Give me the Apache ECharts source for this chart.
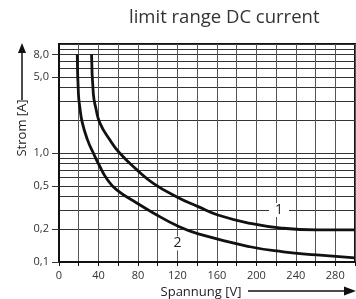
<!DOCTYPE html>
<html>
<head>
<meta charset="utf-8">
<script src="https://cdn.jsdelivr.net/npm/echarts@6/dist/echarts.min.js"></script>
<style>
  html, body { margin: 0; padding: 0; background: #fff; }
  #main { width: 356px; height: 299px; }
</style>
</head>
<body>
<div id="main"></div>
<script>
// Kurve 1 (rechts/oben)
var voltage1 = [33, 34.8, 37.3, 41.5, 51.5, 61, 79, 95.6, 119, 141, 161, 194, 227, 261, 300];
var current1 = [8.0, 3.48, 2.59, 1.88, 1.32, 1.01, 0.70, 0.527, 0.397, 0.322, 0.27, 0.226, 0.204, 0.197, 0.197];
// Kurve 2 (links/unten)
var voltage2 = [18.5, 19.7, 21.2, 23.6, 28.9, 34.8, 40.9, 48.6, 58.5, 78.8, 95.6, 119.3, 141.2, 193.6, 227.3, 261.2, 300];
var current2 = [8.0, 3.48, 2.59, 1.9, 1.32, 1.0, 0.768, 0.577, 0.458, 0.348, 0.282, 0.216, 0.181, 0.138, 0.124, 0.116, 0.109];

var yLabelValues = [0.1, 0.2, 0.5, 1, 5, 8];
var yGridValues = [0.1, 0.2, 0.3, 0.4, 0.5, 0.6, 0.7, 0.8, 0.9, 1, 2, 3, 4, 5, 6, 7, 8, 9, 10];
var xLabelValues = [0, 40, 80, 120, 160, 200, 240, 280];

function pairs(xs, ys) {
    var out = [];
    for (var i = 0; i < xs.length; i++) {
        out.push([xs[i], ys[i]]);
    }
    return out;
}

var myChart = echarts.init(document.getElementById('main'));
var font = 'Open Sans';

var curveLabel = function (text, coord, w) {
    return {
        symbol: 'rect',
        symbolSize: [w, 14],
        itemStyle: { color: '#fff' },
        silent: true,
        data: [{ coord: coord }],
        label: {
            show: true, formatter: text, position: 'inside',
            fontFamily: font, fontSize: 14, color: '#222'
        }
    };
};

var option = {
    animation: false,
    title: {
        text: 'limit range DC current',
        left: 124,
        top: 3,
        textStyle: { fontFamily: font, fontSize: 18.5, fontWeight: 'normal', color: '#333' }
    },
    grid: {
        left: 59, right: 1, top: 44, bottom: 37,
        outerBoundsMode: 'none',
        containLabel: false,
        show: true, borderColor: '#111', borderWidth: 2
    },
    xAxis: {
        type: 'value',
        min: 0, max: 300, interval: 20,
        name: 'Spannung [V]',
        nameLocation: 'middle',
        nameGap: 21,
        nameTextStyle: { fontFamily: font, fontSize: 13, color: '#222', padding: [0, 0, 0, -12] },
        axisLine: { lineStyle: { color: '#111', width: 2 } },
        axisTick: { length: 4, lineStyle: { color: '#111' } },
        axisLabel: {
            fontFamily: font, fontSize: 11, color: '#333', margin: 8,
            formatter: function (v) { return xLabelValues.indexOf(v) >= 0 ? String(v) : ''; }
        },
        splitLine: { show: true, lineStyle: { color: '#555', width: 1 } }
    },
    yAxis: [{
        type: 'log', logBase: 10, min: 0.1, max: 10,
        axisLine: { show: true, lineStyle: { color: '#111', width: 2 } },
        axisTick: { show: true, length: 7, customValues: yLabelValues, lineStyle: { color: '#333' } },
        axisLabel: {
            customValues: yLabelValues,
            fontFamily: font, fontSize: 11, color: '#333', margin: 10,
            formatter: function (v) { return Number(v).toFixed(1).replace('.', ','); }
        },
        splitLine: { show: false }
    }, {
        type: 'log', logBase: 10, min: 0.1, max: 10,
        position: 'left',
        axisLine: { show: false },
        axisTick: { show: false, customValues: yGridValues },
        axisLabel: { show: false },
        splitLine: { show: true, customValues: yGridValues, lineStyle: { color: '#333', width: 1 } }
    }],
    graphic: [
        { type: 'line', shape: { x1: 22, y1: 50, x2: 22, y2: 100 }, style: { stroke: '#111', lineWidth: 1.5 } },
        { type: 'polygon', shape: { points: [[22, 43], [18, 53], [26, 53]] }, style: { fill: '#111' } },
        {
            type: 'text', x: 22, y: 128, rotation: Math.PI / 2,
            style: { text: 'Strom [A]', font: '13px "Open Sans"', fill: '#222', align: 'center', verticalAlign: 'middle' }
        },
        { type: 'line', shape: { x1: 248, y1: 291, x2: 347, y2: 291 }, style: { stroke: '#111', lineWidth: 1.5 } },
        { type: 'polygon', shape: { points: [[356, 291], [344, 286.5], [344, 295.5]] }, style: { fill: '#111' } }
    ],
    series: [{
        name: '1',
        type: 'line',
        smooth: 0.5,
        showSymbol: false,
        data: pairs(voltage1, current1),
        lineStyle: { color: '#111', width: 2.8 },
        markPoint: curveLabel('1', [223, 0.3], 20)
    }, {
        name: '2',
        type: 'line',
        smooth: 0.5,
        showSymbol: false,
        data: pairs(voltage2, current2),
        lineStyle: { color: '#111', width: 2.8 },
        markPoint: curveLabel('2', [120, 0.148], 12)
    }]
};

myChart.setOption(option);
</script>
</body>
</html>
